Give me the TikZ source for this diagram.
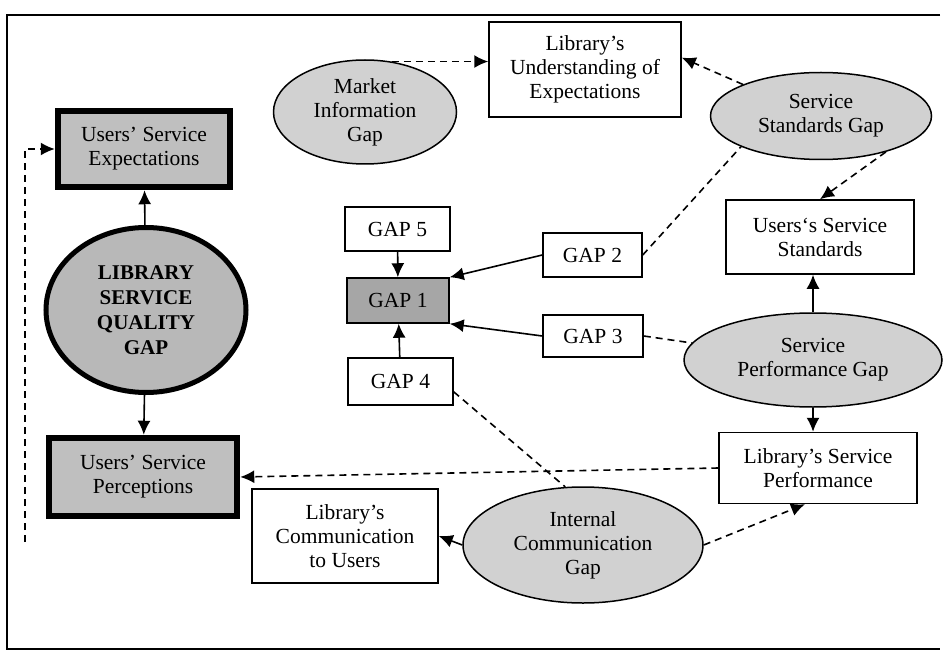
\documentclass[tikz,border=0pt]{standalone}
\usepackage{fontspec}
\setmainfont{Liberation Serif}
\usetikzlibrary{arrows.meta,positioning,shapes.geometric}

\begin{document}
\begin{tikzpicture}[x=1pt, y=-1pt, >={Latex[length=14pt,width=13pt]}, every node/.style={align=center, inner sep=0pt, font=\fontsize{21.5}{24}\selectfont}, box/.style={draw, line width=1.5pt, fill=white}, heavybox/.style={draw, line width=6.5pt, fill=black!25}, gapell/.style={ellipse, draw, line width=1.5pt, fill=black!18}, conn/.style={->, line width=1.6pt}, dconn/.style={line width=1.6pt, dash pattern=on 7pt off 5pt}]
\useasboundingbox (0,0) rectangle (944,652);
\draw[line width=1.6pt] (940,15) -- (7,15) -- (7,649) -- (940,649);
\node[heavybox, minimum width=172, minimum height=76] (exp) at (144,149) {Users’ Service\\Expectations};
\node[ellipse, draw, line width=5pt, fill=black!28, minimum width=200, minimum height=165, font=\fontsize{21}{25}\selectfont\bfseries] (lsqg) at (146,310) {LIBRARY\\SERVICE\\QUALITY\\GAP};
\node[heavybox, minimum width=188, minimum height=78] (perc) at (143,477) {Users’ Service\\Perceptions};
\node[gapell, minimum width=183, minimum height=104] (mig) at (365,112) {Market\\Information\\Gap};
\node[box, minimum width=192, minimum height=95] (lue) at (585,69.5) {Library’s\\Understanding of\\Expectations};
\node[gapell, minimum width=221, minimum height=87] (ssg) at (821,116) {Service\\Standards Gap};
\node[box, minimum width=188, minimum height=74] (uss) at (820,237) {Users`s Service\\Standards};
\node[gapell, minimum width=258, minimum height=94] (spg) at (813,360) {Service\\Performance Gap};
\node[box, minimum width=198, minimum height=71] (lsp) at (818,468) {Library’s Service\\Performance};
\node[gapell, minimum width=240, minimum height=116] (icg) at (583,545) {Internal\\Communication\\Gap};
\node[box, minimum width=186, minimum height=94] (lcu) at (345,536) {Library’s\\Communication\\to Users};
\node[box, minimum width=105, minimum height=44] (gap5) at (397.5,229) {GAP 5};
\node[box, fill=black!35, minimum width=102, minimum height=45] (gap1) at (398,300.5) {GAP 1};
\node[box, minimum width=105, minimum height=47] (gap4) at (400.5,381.5) {GAP 4};
\node[box, minimum width=99, minimum height=44] (gap2) at (592.5,255) {GAP 2};
\node[box, minimum width=100, minimum height=42] (gap3) at (593,336) {GAP 3};
\coordinate (fb) at (25,542);
\draw[conn] (lsqg) -- (exp);
\draw[conn] (lsqg) -- (perc);
\draw[dconn, ->] (fb) |- (exp.west);
\draw[dconn, ->] (mig.62) -- (lue.west |- mig.62);
\draw[dconn, ->] (ssg.158) -- (lue.7);
\draw[dconn] (gap2.east) -- (ssg.201);
\draw[dconn, ->] (ssg.-29) -- (uss.north);
\draw[conn] (spg.north) -- (spg.north |- uss.south);
\draw[conn] (spg.south) -- (spg.south |- lsp.north);
\draw[dconn] (gap3.east) -- (spg.172);
\draw[dconn, ->] (lsp.west) -- (perc.east);
\draw[dconn, ->] (icg.east) -- ([xshift=-13pt]lsp.south);
\draw[dconn] (gap4.-11) -- (icg.107);
\draw[conn] (icg.west) -- (lcu.east);
\draw[conn] (gap5) -- (gap1);
\draw[conn] (gap4) -- (gap1);
\draw[conn] (gap2.west) -- (gap1.north east);
\draw[conn] (gap3.west) -- (gap1.south east);
\end{tikzpicture}
\end{document}
